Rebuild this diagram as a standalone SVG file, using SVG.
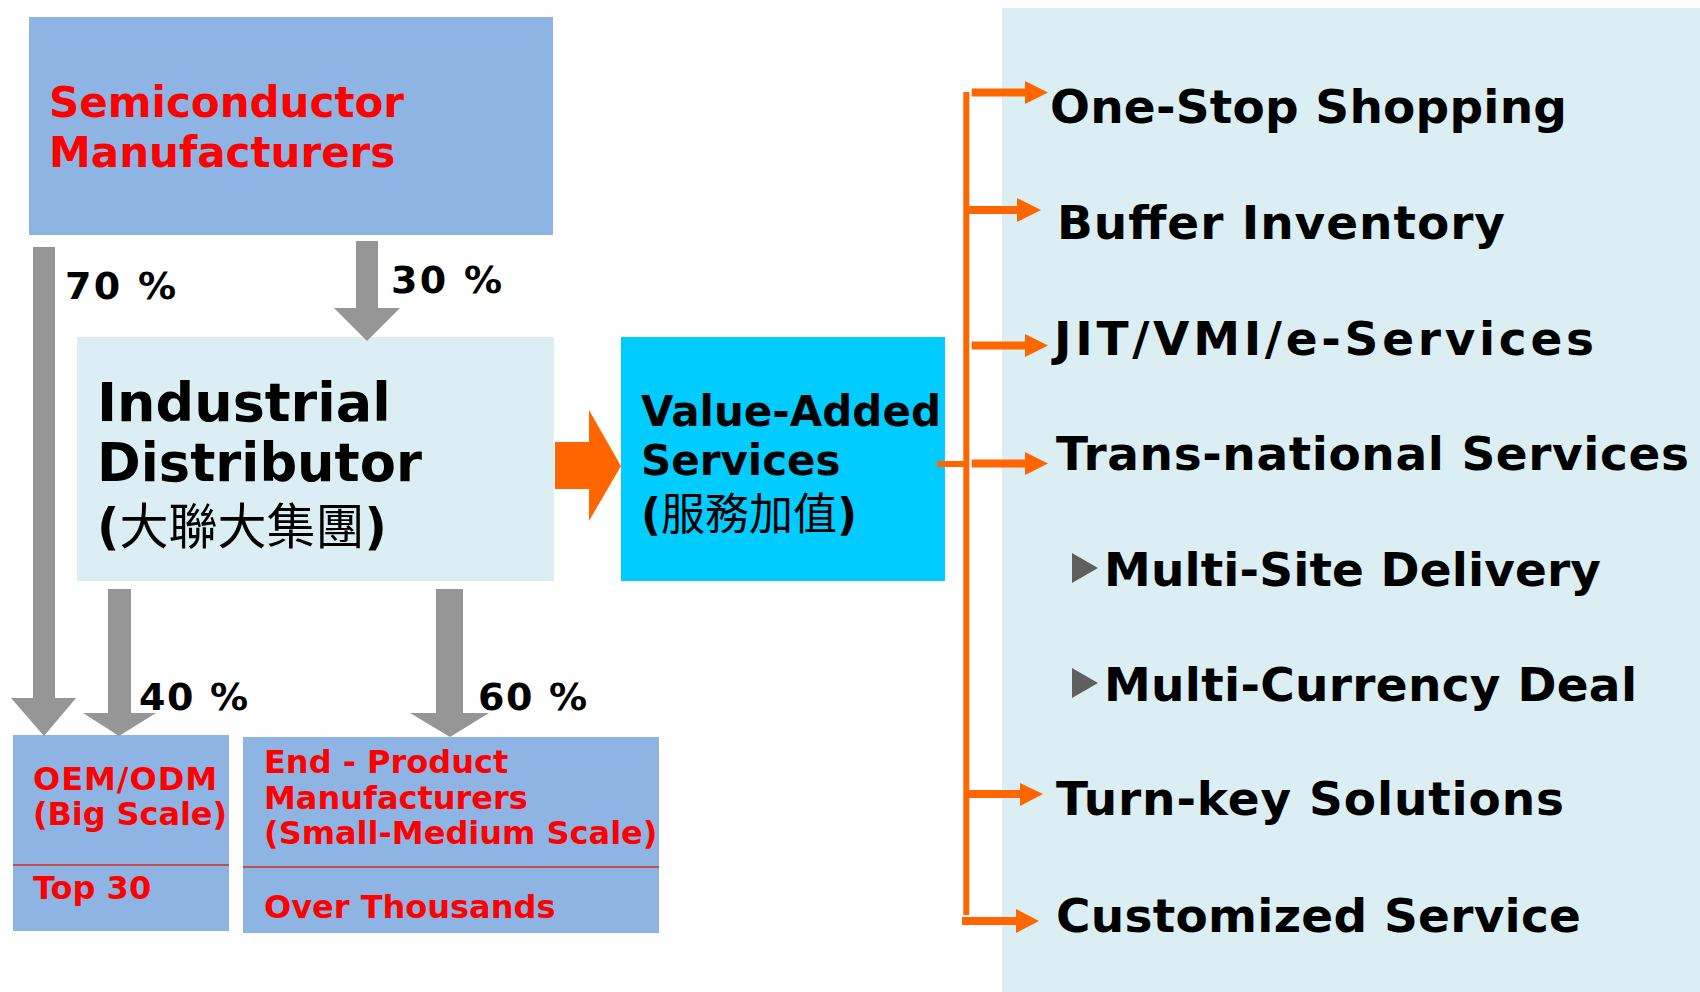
<svg xmlns="http://www.w3.org/2000/svg" width="1700" height="992" viewBox="0 0 1700 992">
  <style>
    .t { font-family: "DejaVu Sans", "Liberation Sans", sans-serif; font-weight: bold; }
    .red { fill: #FF0000; }
    .blk { fill: #000000; }
    .cjk { font-family: "Noto Sans CJK TC", "Noto Sans CJK SC", sans-serif; font-weight: normal; }
    .gray { fill: #969696; }
    .org { fill: #FF6600; }
    .oline { stroke: #FF6600; fill: none; }
    .div { stroke: #C0504D; stroke-width: 2; }
  </style>
  <rect width="1700" height="992" fill="#FFFFFF"/>

  <g id="services-panel">
    <rect x="1002" y="8" width="698" height="984" fill="#DAEEF3"/>
  </g>

  <g id="semiconductor-manufacturers">
    <rect x="29" y="17" width="524" height="218" fill="#8EB4E3"/>
    <text class="t red" font-size="42" x="49" y="117">Semiconductor</text>
    <text class="t red" font-size="42" x="49" y="167">Manufacturers</text>
  </g>

  <g id="industrial-distributor">
    <rect x="77" y="337" width="477" height="244" fill="#DAEEF3"/>
    <text class="t blk" font-size="54" x="97" y="421">Industrial</text>
    <text class="t blk" font-size="54" x="97" y="481" textLength="325" lengthAdjust="spacingAndGlyphs">Distributor</text>
    <text class="t blk" font-size="49" x="97" y="544">(<tspan class="cjk">大聯大集團</tspan>)</text>
  </g>

  <g id="value-added-services">
    <rect x="621" y="337" width="324" height="244" fill="#00CCFF"/>
    <text class="t blk" font-size="42" x="641" y="426">Value-Added</text>
    <text class="t blk" font-size="42" x="641" y="475">Services</text>
    <text class="t blk" font-size="44" x="641" y="530">(<tspan class="cjk">服務加值</tspan>)</text>
  </g>

  <g id="oem-odm">
    <rect x="13" y="735" width="216" height="196" fill="#8EB4E3"/>
    <line class="div" x1="13" y1="865" x2="229" y2="865"/>
    <text class="t red" font-size="32" x="33" y="790" textLength="184">OEM/ODM</text>
    <text class="t red" font-size="32" x="33" y="825" textLength="194">(Big Scale)</text>
    <text class="t red" font-size="32" x="33" y="899">Top 30</text>
  </g>

  <g id="end-product-manufacturers">
    <rect x="243" y="737" width="416" height="196" fill="#8EB4E3"/>
    <line class="div" x1="243" y1="867" x2="659" y2="867"/>
    <text class="t red" font-size="32" x="264" y="773">End - Product</text>
    <text class="t red" font-size="32" x="264" y="809">Manufacturers</text>
    <text class="t red" font-size="32" x="264" y="844">(Small-Medium Scale)</text>
    <text class="t red" font-size="32" x="264" y="918">Over Thousands</text>
  </g>

  <g id="service-items">
    <text class="t blk" font-size="47" x="1050" y="123" textLength="517">One-Stop Shopping</text>
    <text class="t blk" font-size="47" x="1057" y="239" textLength="448">Buffer Inventory</text>
    <text class="t blk" font-size="47" x="1054" y="355" textLength="540">JIT/VMI/e-Services</text>
    <text class="t blk" font-size="47" x="1056" y="470" textLength="633">Trans-national Services</text>
    <polygon points="1072,553 1098,568 1072,583" fill="#5F5F5F"/>
    <text class="t blk" font-size="47" x="1104" y="586" textLength="497">Multi-Site Delivery</text>
    <polygon points="1072,668 1098,683 1072,698" fill="#5F5F5F"/>
    <text class="t blk" font-size="47" x="1104" y="701" textLength="533">Multi-Currency Deal</text>
    <text class="t blk" font-size="47" x="1056" y="815" textLength="508">Turn-key Solutions</text>
    <text class="t blk" font-size="47" x="1056" y="932" textLength="525">Customized Service</text>
  </g>

  <g id="connectors">
    <!-- gray flow arrows -->
    <polygon class="gray" points="33,247 55,247 55,698 76,698 44,736 11,698 33,698"/>
    <polygon class="gray" points="356,241 378,241 378,308 400,308 367,341 334,308 356,308"/>
    <polygon class="gray" points="108,589 131,589 131,713 156,713 119,736 83,713 108,713"/>
    <polygon class="gray" points="436,589 463,589 463,713 489,713 450,737 410,713 436,713"/>
    <!-- big orange arrow -->
    <polygon class="org" points="555,442 589,442 589,410 621,466 589,521 589,489 555,489"/>
    <!-- orange bracket -->
    <line class="oline" stroke-width="6" x1="966.3" y1="92" x2="966.3" y2="915"/>
    <line class="oline" stroke-width="6" x1="937" y1="464" x2="966" y2="464"/>
    <line class="oline" stroke-width="8" x1="971.7" y1="92.5" x2="1026" y2="92.5"/>
    <polygon class="org" points="1025,81 1048,92.5 1025,104"/>
    <line class="oline" stroke-width="8" x1="966" y1="210" x2="1018" y2="210"/>
    <polygon class="org" points="1017,198 1041,210 1017,222"/>
    <line class="oline" stroke-width="8" x1="971.7" y1="345.5" x2="1026" y2="345.5"/>
    <polygon class="org" points="1025,334 1048,345.5 1025,357"/>
    <line class="oline" stroke-width="8" x1="971.7" y1="463.5" x2="1026" y2="463.5"/>
    <polygon class="org" points="1025,452 1048,463.5 1025,475"/>
    <line class="oline" stroke-width="8" x1="966" y1="794" x2="1021" y2="794"/>
    <polygon class="org" points="1020,783 1043,794 1020,806"/>
    <line class="oline" stroke-width="8" x1="962" y1="921" x2="1017" y2="921"/>
    <polygon class="org" points="1016,909 1039,921 1016,933"/>
  </g>

  <g id="percent-labels">
    <text class="t blk" font-size="38" x="65" y="299" textLength="111">70 %</text>
    <text class="t blk" font-size="38" x="391" y="293" textLength="111">30 %</text>
    <text class="t blk" font-size="38" x="139" y="710" textLength="109">40 %</text>
    <text class="t blk" font-size="38" x="478" y="710" textLength="109">60 %</text>
  </g>
</svg>
